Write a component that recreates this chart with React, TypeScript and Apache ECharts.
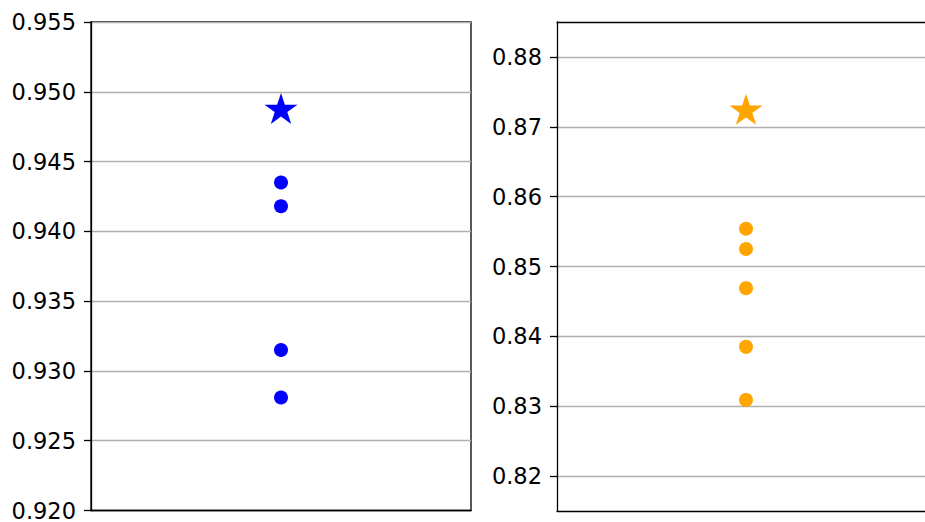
import React, { useEffect, useRef } from "react";
import * as echarts from "echarts";

const leftDots = [0.9435, 0.9418, 0.9315, 0.9281];
const leftStar = [0.9487];
const rightDots = [0.8554, 0.8525, 0.8469, 0.8385, 0.8309];
const rightStar = [0.8723];
const leftTicks = [0.92, 0.925, 0.93, 0.935, 0.94, 0.945, 0.95, 0.955];
const rightTicks = [0.82, 0.83, 0.84, 0.85, 0.86, 0.87, 0.88];

const STAR =
  "path://M0,-1 L0.2245,-0.309 L0.951,-0.309 L0.3633,0.118 L0.5878,0.809 L0,0.382 L-0.5878,0.809 L-0.3633,0.118 L-0.951,-0.309 L-0.2245,-0.309 Z";

export default function App() {
  const ref = useRef<HTMLDivElement>(null);
  useEffect(() => {
    document.body.style.margin = "0";
    const chart = echarts.init(ref.current!, null, { renderer: "svg" });
    const font = { fontFamily: "DejaVu Sans", fontSize: 22.5, color: "#000" };
    const line = { color: "#000", width: 1.3 };
    const yCommon = (i: number, min: number, max: number, ticks: number[], dec: number) => ({
      type: "value",
      gridIndex: i,
      min,
      max,
      axisLine: { show: true, onZero: false, lineStyle: line },
      axisTick: { show: true, length: 7, customValues: ticks, lineStyle: line },
      axisLabel: { ...font, margin: 15, customValues: ticks, formatter: (v: number) => v.toFixed(dec) },
      splitLine: { show: true, lineStyle: { color: "#b0b0b0", width: 1.3 } },
    });
    const xCommon = (i: number, max: number, position: string) => ({
      type: "value",
      gridIndex: i,
      position,
      min: -1,
      max,
      axisLine: { show: true, onZero: false, lineStyle: line },
      axisTick: { show: false },
      axisLabel: { show: false },
      splitLine: { show: false },
    });
    chart.setOption({
      animation: false,
      backgroundColor: "#fff",
      grid: [
        { left: 91, top: 22, width: 380, height: 489, show: true, borderColor: "#000", borderWidth: 1.3, backgroundColor: "transparent" },
        { left: 557, top: 22, right: 0, height: 489, show: false },
      ],
      xAxis: [
        xCommon(0, 1, "bottom"),
        xCommon(1, 0.947, "bottom"),
        xCommon(1, 0.947, "top"),
      ],
      yAxis: [
        yCommon(0, 0.92, 0.955, leftTicks, 3),
        yCommon(1, 0.815, 0.885, rightTicks, 2),
      ],
      series: [
        {
          type: "scatter", xAxisIndex: 0, yAxisIndex: 0,
          data: leftDots.map((v) => [0, v]), symbol: "circle", symbolSize: 14,
          itemStyle: { color: "#0000ff", opacity: 1 },
        },
        {
          type: "scatter", xAxisIndex: 0, yAxisIndex: 0,
          data: leftStar.map((v) => [0, v]), symbol: STAR, symbolSize: [33, 31],
          symbolOffset: [0, -1.5], itemStyle: { color: "#0000ff", opacity: 1 },
        },
        {
          type: "scatter", xAxisIndex: 1, yAxisIndex: 1,
          data: rightDots.map((v) => [0, v]), symbol: "circle", symbolSize: 14,
          itemStyle: { color: "#ffa500", opacity: 1 },
        },
        {
          type: "scatter", xAxisIndex: 1, yAxisIndex: 1,
          data: rightStar.map((v) => [0, v]), symbol: STAR, symbolSize: [33, 31],
          symbolOffset: [0, -1.5], itemStyle: { color: "#ffa500", opacity: 1 },
        },
      ],
    });
    return () => chart.dispose();
  }, []);
  return <div ref={ref} style={{ width: 925, height: 522 }} />;
}
